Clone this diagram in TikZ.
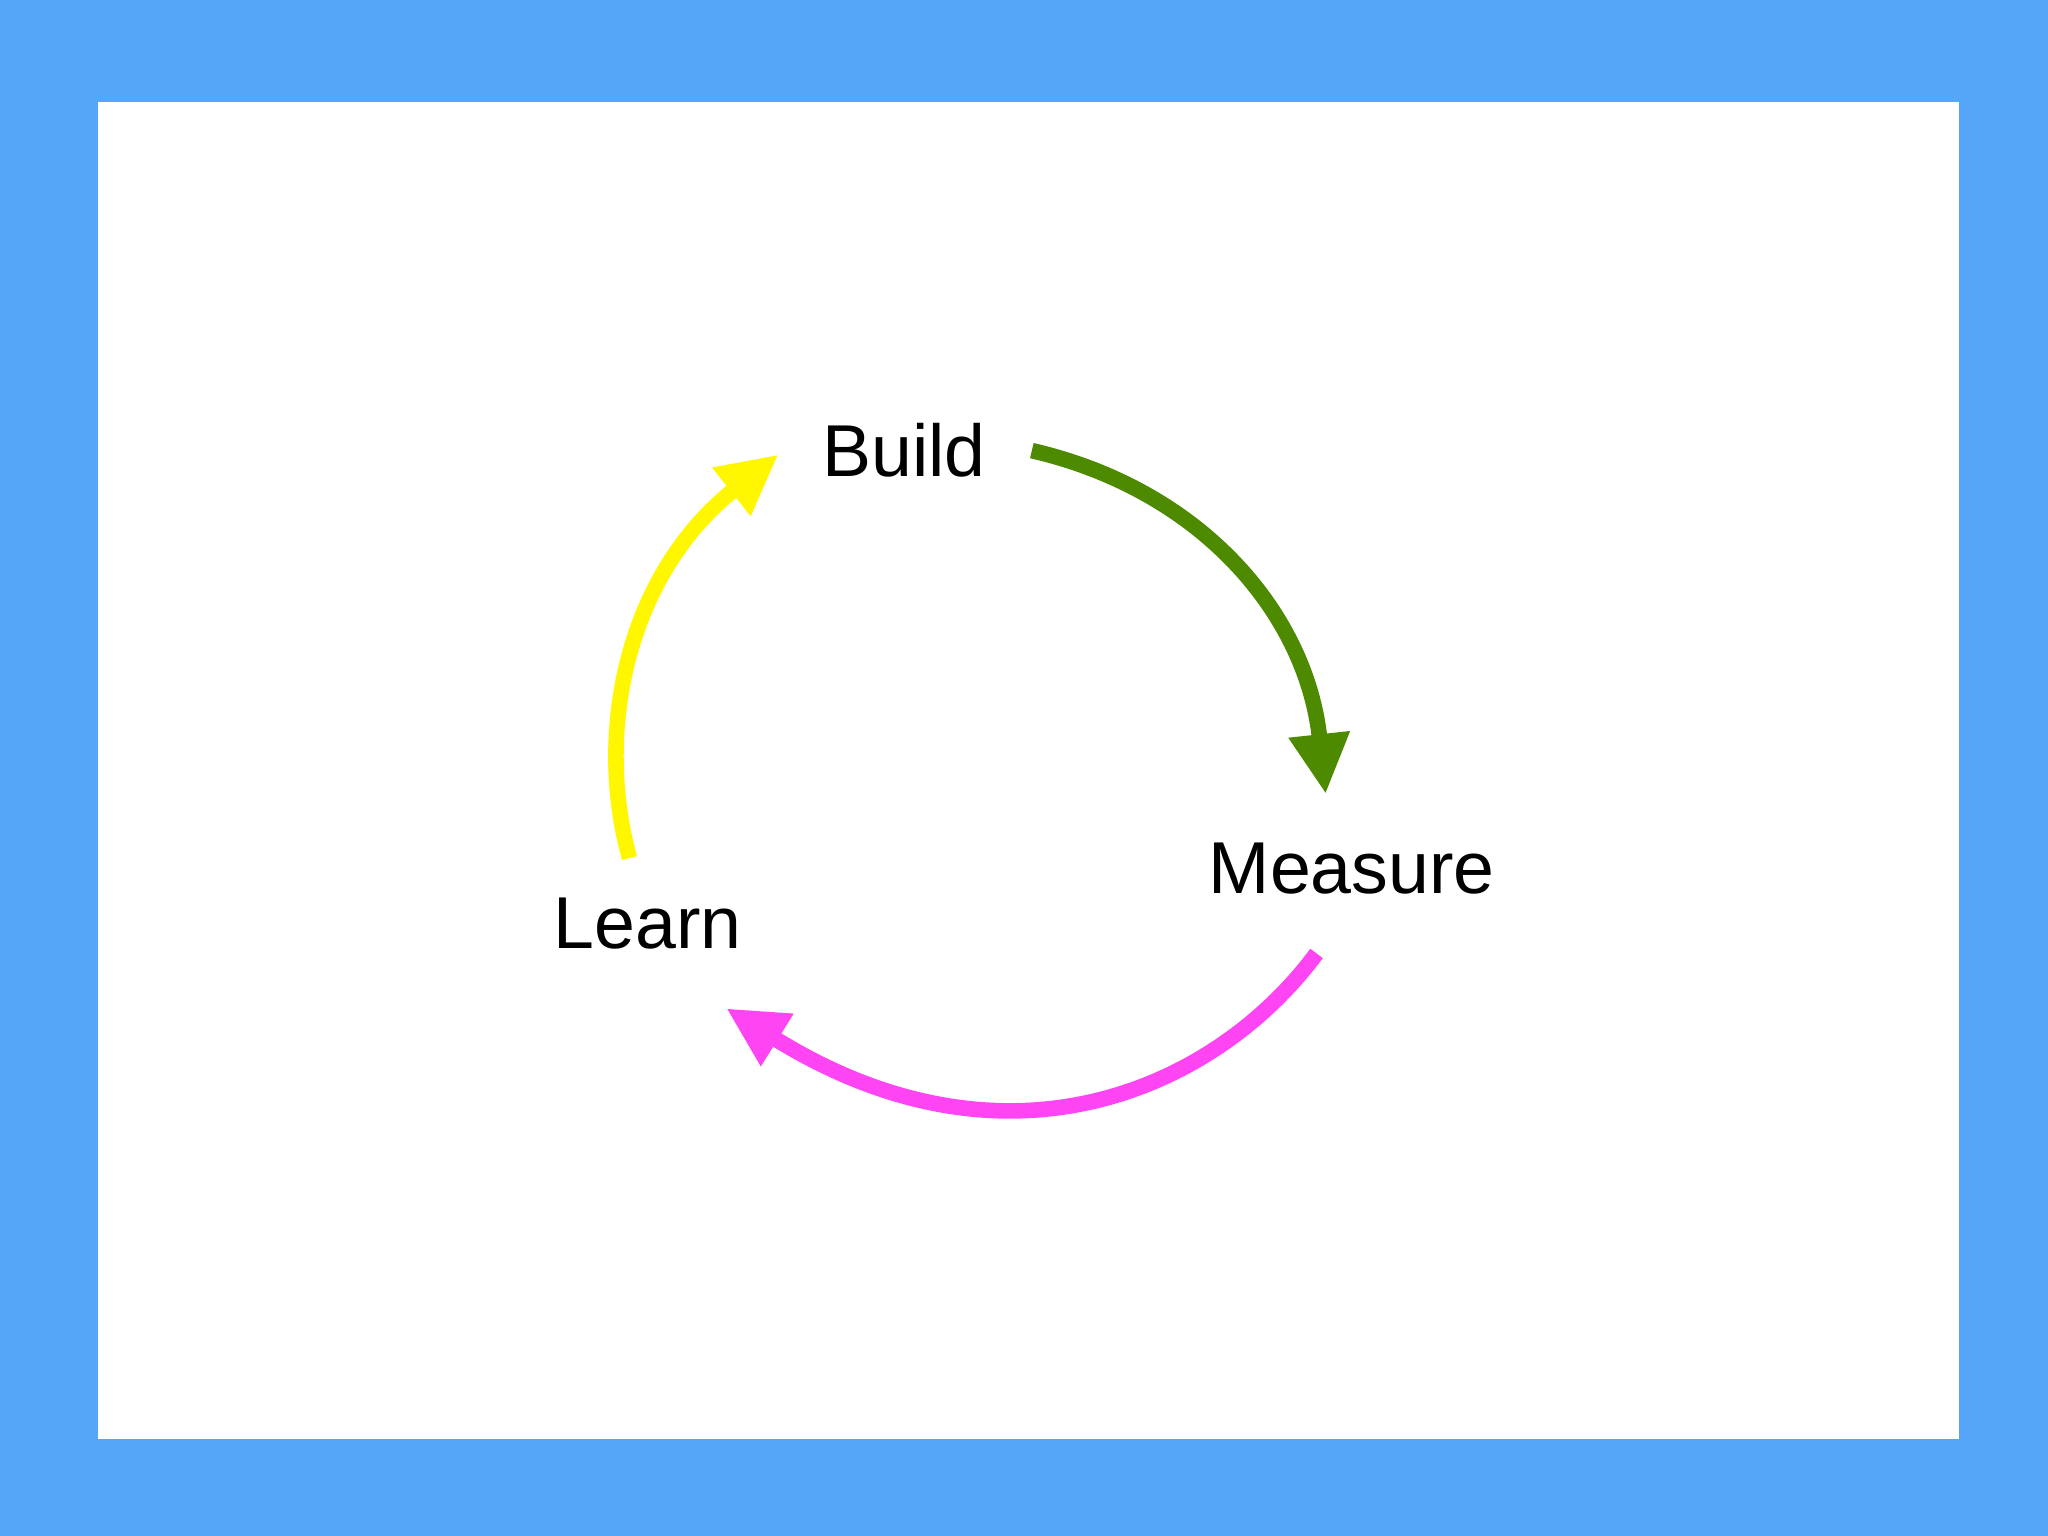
\documentclass[tikz,border=0pt]{standalone}
\usepackage{fontspec}
\setmainfont{Liberation Sans}
\usetikzlibrary{arrows.meta}
\definecolor{bg}{HTML}{55A5F8}
\definecolor{gr}{HTML}{4E8A00}
\definecolor{ye}{HTML}{FFF700}
\definecolor{mg}{HTML}{FF44F4}
\tikzset{lbl/.style={font=\fontsize{16pt}{18pt}\selectfont, inner sep=0pt},
cyc/.style={line width=3.4pt, -{Triangle[length=0.46cm,width=0.44cm]}}}
\begin{document}
\begin{tikzpicture}[x=0.01cm,y=-0.01cm]
\fill[bg] (0,0) rectangle (1568,1176);
\useasboundingbox (0,0) rectangle (1568,1176);
\fill[white] (75,78) rectangle (1500,1102);
\node[lbl] (b) at (692,345) {Build};
\node[lbl] (m) at (1035,665) {Measure};
\node[lbl] (l) at (496,707) {Learn};
\coordinate (g1) at (790,345); \coordinate (g2) at (1015,608);
\coordinate (m1) at (1008,730); \coordinate (m2) at (556,772);
\coordinate (y1) at (482,657); \coordinate (y2) at (596,348);
\draw[cyc,gr] (g1) .. controls (920,375) and (1000,470) .. (g2);
\draw[cyc,mg] (m1) .. controls (930,835) and (770,905) .. (m2);
\draw[cyc,ye] (y1) .. controls (455,560) and (480,440) .. (y2);
\end{tikzpicture}
\end{document}
